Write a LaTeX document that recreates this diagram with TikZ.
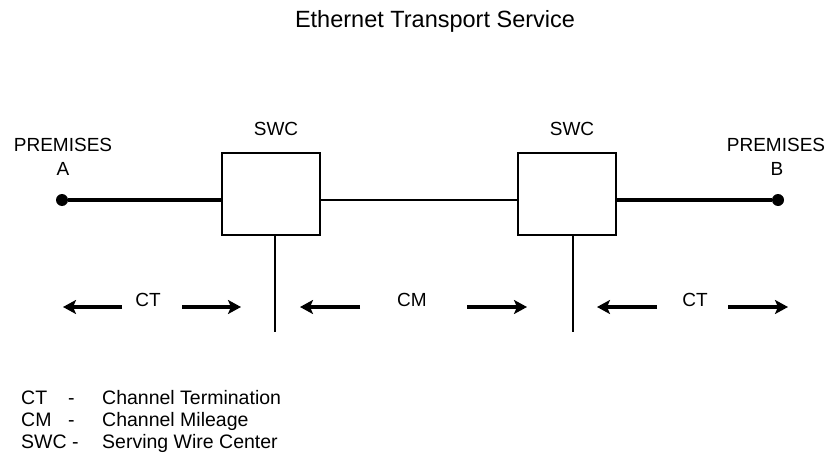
\documentclass[tikz,border=0pt]{standalone}
\usepackage{fontspec}
\setmainfont{Liberation Sans}
\usetikzlibrary{arrows.meta}
\begin{document}
\begin{tikzpicture}[x=1pt,y=-1pt,
    lbl/.style={font=\fontsize{19}{22}\selectfont,inner sep=0pt},
    swcbox/.style={draw,line width=2pt,minimum width=98pt,minimum height=82pt,inner sep=0pt},
    prem/.style={circle,fill,inner sep=0pt,minimum size=12pt},
    heavy/.style={line width=3.5pt},
    midline/.style={line width=1.8pt},
    dimarrow/.style={line width=3.5pt,-{Stealth[length=13pt,width=14pt,inset=3pt]}},
    leg/.style={font=\fontsize{19.5}{22}\selectfont,inner sep=0pt,anchor=base west}]
    \useasboundingbox (0,0) rectangle (833,460);
    \node[font=\fontsize{23.5}{27}\selectfont,inner sep=0pt,anchor=base] (title) at (435,28) {Ethernet Transport Service};
    % premises and serving wire centers
    \node[prem] (premA) at (62,200) {};
    \node[prem] (premB) at (778,200) {};
    \node[lbl] (premAtxt) at (63,145) {PREMISES};
    \node[lbl] (premAltr) at (63,169) {A};
    \node[lbl] (premBtxt) at (776,145) {PREMISES};
    \node[lbl] (premBltr) at (777,169) {B};
    \node[swcbox] (swcA) at (271,194) {};
    \node[swcbox] (swcB) at (566.5,194) {};
    \node[lbl] (swcAtxt) at (276,129) {SWC};
    \node[lbl] (swcBtxt) at (572,129) {SWC};
    \draw[heavy] (premA) -- (premA -| swcA.west);
    \draw[heavy] (premB) -- (premB -| swcB.east);
    \draw[midline] (premA -| swcA.east) -- (premA -| swcB.west);
    \coordinate (dropA) at (275,332);
    \coordinate (dropB) at (573,332);
    \draw[midline] (dropA |- swcA.south) -- (dropA);
    \draw[midline] (dropB |- swcB.south) -- (dropB);
    % spans
    \node[lbl] (ctA) at (148,300) {CT};
    \node[lbl] (cm) at (412,300) {CM};
    \node[lbl] (ctB) at (695,300) {CT};
    \coordinate (ctA1) at (63,307); \coordinate (ctA2) at (241,307);
    \coordinate (cm1) at (300,307); \coordinate (cm2) at (527,307);
    \coordinate (ctB1) at (597,307); \coordinate (ctB2) at (788,307);
    \draw[dimarrow] (122,307) -- (ctA1);
    \draw[dimarrow] (182,307) -- (ctA2);
    \draw[dimarrow] (360,307) -- (cm1);
    \draw[dimarrow] (467,307) -- (cm2);
    \draw[dimarrow] (657,307) -- (ctB1);
    \draw[dimarrow] (728,307) -- (ctB2);
    % legend
    \node[leg] (lg1) at (21,404) {CT};
    \node[leg] (lg1d) at (68,404) {-};
    \node[leg] (lg1t) at (102,404) {Channel Termination};
    \node[leg] (lg2) at (21,426) {CM};
    \node[leg] (lg2d) at (68,426) {-};
    \node[leg] (lg2t) at (102,426) {Channel Mileage};
    \node[leg] (lg3) at (21,448) {SWC -};
    \node[leg] (lg3t) at (102,448) {Serving Wire Center};
\end{tikzpicture}
\end{document}
